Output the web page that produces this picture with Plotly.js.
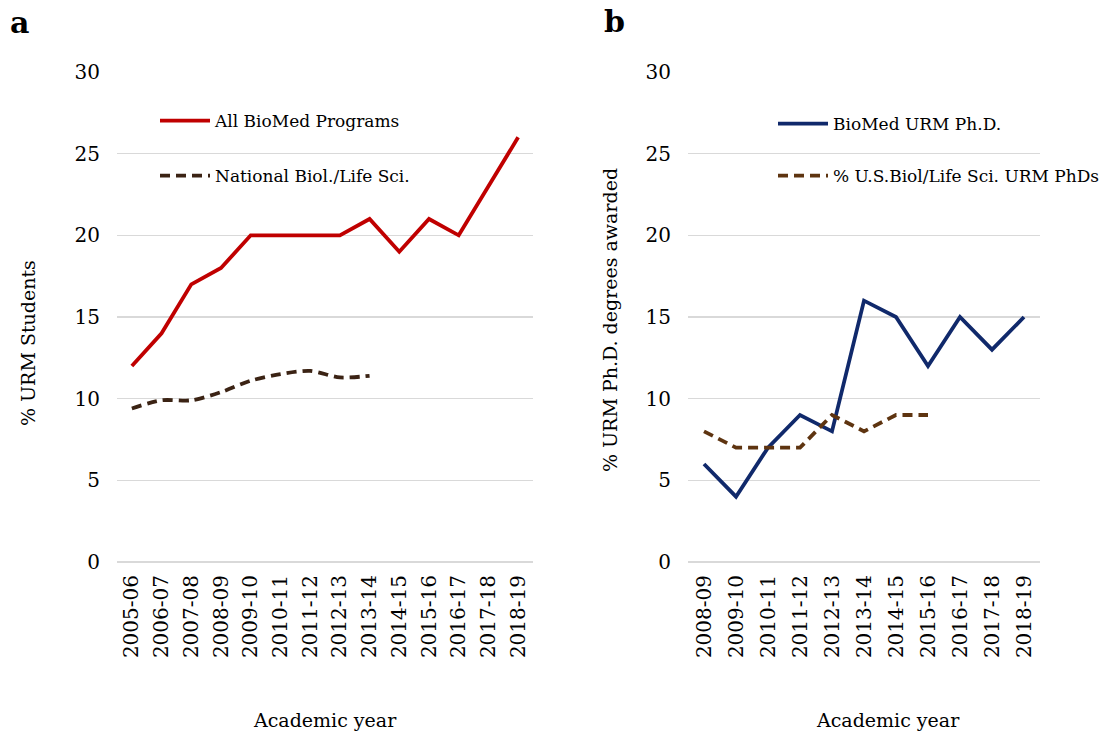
<!DOCTYPE html>
<html>
<head>
<meta charset="utf-8">
<script src="https://cdn.plot.ly/plotly-3.0.1.min.js"></script>
<style>html,body{margin:0;padding:0;background:#fff;}#chart{width:1113px;height:735px;}</style>
</head>
<body>
<div id="chart"></div>
<script>
// Panel a
const yearsA = ["2005-06","2006-07","2007-08","2008-09","2009-10","2010-11","2011-12","2012-13","2013-14","2014-15","2015-16","2016-17","2017-18","2018-19"];
const allBioMed = [12,14,17,18,20,20,20,20,21,19,21,20,23,26];
const yearsNational = ["2005-06","2006-07","2007-08","2008-09","2009-10","2010-11","2011-12","2012-13","2013-14"];
const nationalBio = [9.4,9.9,9.9,10.4,11.1,11.5,11.7,11.3,11.4];
// Panel b
const yearsB = ["2008-09","2009-10","2010-11","2011-12","2012-13","2013-14","2014-15","2015-16","2016-17","2017-18","2018-19"];
const bioMedPhD = [6,4,7,9,8,16,15,12,15,13,15];
const yearsUS = ["2008-09","2009-10","2010-11","2011-12","2012-13","2013-14","2014-15","2015-16"];
const usPhD = [8,7,7,7,9,8,9,9];
const yTicks = [0,5,10,15,20,25,30];

const FONT = "Georgia, 'DejaVu Serif', serif";
const W = 1113, H = 735;
const px = x => x / W;
const py = y => 1 - y / H;

const traces = [
  {x: yearsA, y: allBioMed, type: 'scatter', mode: 'lines', name: 'All BioMed Programs', showlegend: true,
   line: {color: '#C00000', width: 3.8}, xaxis: 'x', yaxis: 'y', legend: 'legend'},
  {x: yearsNational, y: nationalBio, type: 'scatter', mode: 'lines', name: 'National Biol./Life Sci.', showlegend: true,
   line: {color: '#3B2314', width: 3.8, dash: '10px,6px', shape: 'spline', smoothing: 0.8}, xaxis: 'x', yaxis: 'y', legend: 'legend2'},
  {x: yearsB, y: bioMedPhD, type: 'scatter', mode: 'lines', name: 'BioMed URM Ph.D.', showlegend: true,
   line: {color: '#10296B', width: 3.8}, xaxis: 'x2', yaxis: 'y2', legend: 'legend3'},
  {x: yearsUS, y: usPhD, type: 'scatter', mode: 'lines', name: '% U.S.Biol/Life Sci. URM PhDs', showlegend: true,
   line: {color: '#5E3410', width: 3.8, dash: '10px,6px'}, xaxis: 'x2', yaxis: 'y2', legend: 'legend4'}
];

const xax = (dom, cats, n) => ({
  domain: dom, type: 'category', categoryorder: 'array', categoryarray: cats,
  range: [-0.5, n - 0.5], tickangle: -90, showgrid: false, zeroline: false, showline: false,
  ticks: '', ticklabelstandoff: 8, tickfont: {family: FONT, size: 20, color: '#000'}, automargin: false, fixedrange: true
});
const yax = (dom, anchor) => ({
  domain: dom, anchor: anchor, range: [0, 30], tickvals: yTicks, showgrid: true, gridcolor: '#D9D9D9', gridwidth: 1.2,
  zeroline: true, zerolinecolor: '#D9D9D9', zerolinewidth: 1.2, showline: false, ticks: '', ticklabelstandoff: 16,
  tickfont: {family: FONT, size: 20, color: '#000'}, automargin: false, fixedrange: true
});

const legendBase = (x, y) => ({x: x, y: y, xanchor: 'left', yanchor: 'middle', bgcolor: 'rgba(0,0,0,0)',
  itemwidth: 50, font: {family: FONT, size: 17, color: '#000'}});

const yDom = [py(562), py(72)];
const ann = (text, x, y, size, angle) => ({text: text, x: px(x), y: py(y), xref: 'paper', yref: 'paper',
  xanchor: 'center', yanchor: 'middle', showarrow: false, textangle: angle || 0, font: {family: FONT, size: size, color: '#000'}});
const layout = {
  width: W, height: H,
  margin: {l: 0, r: 0, t: 0, b: 0},
  paper_bgcolor: '#fff', plot_bgcolor: '#fff',
  showlegend: true,
  font: {family: FONT, color: '#000'},
  xaxis: Object.assign(xax([px(117), px(533)], yearsA, yearsA.length), {anchor: 'y'}),
  yaxis: yax(yDom, 'x'),
  xaxis2: Object.assign(xax([px(688), px(1040)], yearsB, yearsB.length), {anchor: 'y2'}),
  yaxis2: yax(yDom, 'x2'),
  legend: legendBase(px(155), py(121)),
  legend2: legendBase(px(155), py(176)),
  legend3: legendBase(px(773), py(124)),
  legend4: legendBase(px(773), py(176)),
  annotations: [
    ann('<b>a</b>', 19, 23, 30),
    ann('<b>b</b>', 614, 21, 30),
    ann('% URM Students', 28, 343, 19, -90),
    ann('% URM Ph.D. degrees awarded', 610, 320, 19, -90),
    ann('Academic year', 325, 720, 19),
    ann('Academic year', 888, 720, 19)
  ]
};

Plotly.newPlot('chart', traces, layout, {displayModeBar: false, staticPlot: true});
</script>
</body>
</html>
